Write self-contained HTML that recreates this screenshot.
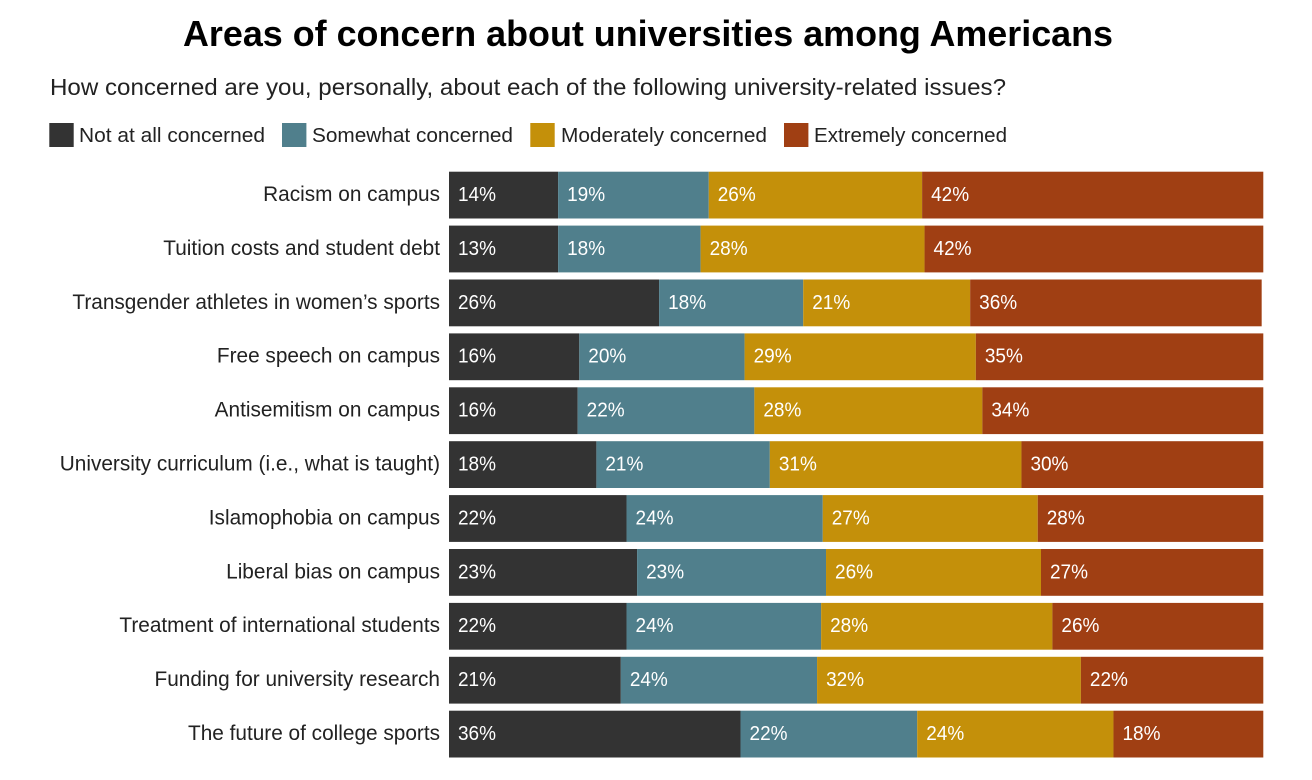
<!DOCTYPE html>
<html lang="en">
<head>
<meta charset="utf-8">
<title>Areas of concern about universities among Americans</title>
<style>
  html, body { margin: 0; padding: 0; background: #ffffff; width: 1312px; height: 780px; overflow: hidden; }
  svg { display: block; font-family: "Liberation Sans", Arial, sans-serif; }
  .cat { font-size: 20.8px; fill: #222222; }
  .val { font-size: 20px; fill: #ffffff; }
  .leg { font-size: 20.5px; fill: #222222; }
</style>
</head>
<body>
<svg id="chart" width="1312" height="780" viewBox="0 0 1312 780" xmlns="http://www.w3.org/2000/svg">
  <text x="183" y="46" font-size="36.5" font-weight="700" fill="#000000" textLength="930" lengthAdjust="spacingAndGlyphs">Areas of concern about universities among Americans</text>
  <text x="50" y="95" font-size="23.5" fill="#222222" textLength="956" lengthAdjust="spacingAndGlyphs">How concerned are you, personally, about each of the following university-related issues?</text>
  <g>
    <g>
      <rect x="49.3" y="123" width="24.4" height="24" fill="#333333"/>
      <text class="leg" x="79" y="142" textLength="186" lengthAdjust="spacingAndGlyphs">Not at all concerned</text>
    </g>
    <g>
      <rect x="282" y="123" width="24.4" height="24" fill="#507f8c"/>
      <text class="leg" x="312" y="142" textLength="201" lengthAdjust="spacingAndGlyphs">Somewhat concerned</text>
    </g>
    <g>
      <rect x="530.3" y="123" width="24.4" height="24" fill="#c4900a"/>
      <text class="leg" x="561" y="142" textLength="206" lengthAdjust="spacingAndGlyphs">Moderately concerned</text>
    </g>
    <g>
      <rect x="784" y="123" width="24.4" height="24" fill="#a03f13"/>
      <text class="leg" x="814" y="142" textLength="193" lengthAdjust="spacingAndGlyphs">Extremely concerned</text>
    </g>
  </g>
  <g id="plot"></g>
</svg>
<script>
const categories = [
  "Racism on campus",
  "Tuition costs and student debt",
  "Transgender athletes in women\u2019s sports",
  "Free speech on campus",
  "Antisemitism on campus",
  "University curriculum (i.e., what is taught)",
  "Islamophobia on campus",
  "Liberal bias on campus",
  "Treatment of international students",
  "Funding for university research",
  "The future of college sports"
];
const seriesNames = ["not-at-all", "somewhat", "moderately", "extremely"];

// Shares (bar lengths)
const notAtAll  = [13.4, 13.4, 25.8, 16.0, 15.8, 18.1, 21.8, 23.1, 21.8, 21.1, 35.8];
const somewhat  = [18.5, 17.5, 17.7, 20.3, 21.7, 21.3, 24.1, 23.2, 23.9, 24.1, 21.7];
const moderately = [26.2, 27.5, 20.5, 28.4, 28.0, 30.9, 26.4, 26.4, 28.4, 32.4, 24.1];
const extremely = [41.9, 41.6, 35.8, 35.3, 34.5, 29.7, 27.7, 27.3, 25.9, 22.4, 18.4];

// Printed labels
const notAtAllLabels  = [14, 13, 26, 16, 16, 18, 22, 23, 22, 21, 36];
const somewhatLabels  = [19, 18, 18, 20, 22, 21, 24, 23, 24, 24, 22];
const moderatelyLabels = [26, 28, 21, 29, 28, 31, 27, 26, 28, 32, 24];
const extremelyLabels = [42, 42, 36, 35, 34, 30, 28, 27, 26, 22, 18];

const seriesValues = [notAtAll, somewhat, moderately, extremely];
const seriesLabels = [notAtAllLabels, somewhatLabels, moderatelyLabels, extremelyLabels];
const seriesColors = ["#333333", "#507f8c", "#c4900a", "#a03f13"];

const SVG_NS = "http://www.w3.org/2000/svg";
const plot = document.getElementById("plot");

function xScale(v) { return 449 + v * 8.143; }
function yScale(i) { return 171.7 + i * 53.9; }
const barHeight = 46.8;

categories.forEach(function (name, i) {
  const row = document.createElementNS(SVG_NS, "g");
  
  
  plot.appendChild(row);

  const label = document.createElementNS(SVG_NS, "text");
  
  
  label.setAttribute("class", "cat");
  label.setAttribute("x", 440);
  label.setAttribute("y", yScale(i) + 29.3);
  label.setAttribute("text-anchor", "end");
  label.textContent = name;
  row.appendChild(label);

  let cumulative = 0;
  seriesValues.forEach(function (values, s) {
    const x0 = xScale(cumulative);
    const x1 = xScale(cumulative + values[i]);
    cumulative += values[i];

    const bar = document.createElementNS(SVG_NS, "rect");
    
    
    bar.setAttribute("x", x0);
    bar.setAttribute("y", yScale(i));
    bar.setAttribute("width", x1 - x0);
    bar.setAttribute("height", barHeight);
    bar.setAttribute("fill", seriesColors[s]);
    bar.setAttribute("data-series", seriesNames[s]);
    row.appendChild(bar);

    const value = document.createElementNS(SVG_NS, "text");
    
    
    value.setAttribute("class", "val");
    value.setAttribute("x", x0 + 9);
    value.setAttribute("y", yScale(i) + 29.3);
    value.setAttribute("textLength", 38);
    value.setAttribute("lengthAdjust", "spacingAndGlyphs");
    value.textContent = seriesLabels[s][i] + "%";
    row.appendChild(value);
  });
});
</script>
</body>
</html>
